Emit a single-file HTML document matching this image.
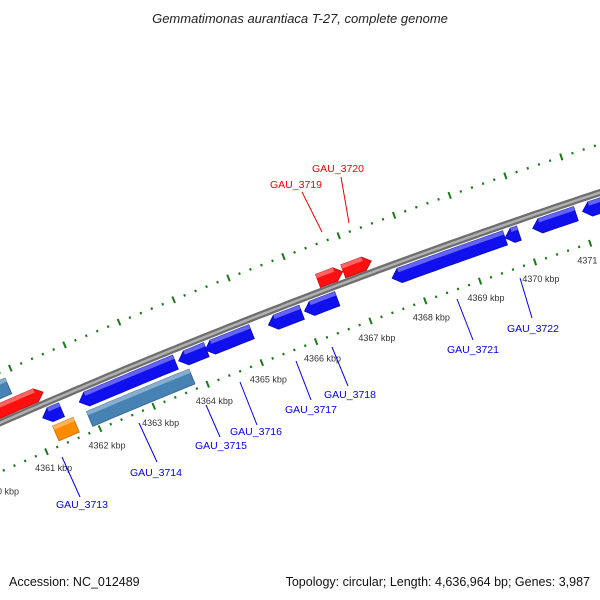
<!DOCTYPE html>
<html><head><meta charset="utf-8"><style>
html,body{margin:0;padding:0;background:#fff}
svg{display:block;font-family:"Liberation Sans","DejaVu Sans",sans-serif}
</style></head><body>
<svg id="map" width="600" height="600" viewBox="0 0 600 600">
<text x="300" y="23" text-anchor="middle" font-size="13" font-style="italic" fill="#222">Gemmatimonas aurantiaca T-27, complete genome</text>
<text x="9" y="586" font-size="12.5" fill="#111">Accession: NC_012489</text>
<text x="590" y="586" text-anchor="end" font-size="12.5" fill="#111">Topology: circular; Length: 4,636,964 bp; Genes: 3,987</text>
<g id="ticks"></g>
<g id="backbone"></g>
<g id="genes"></g>
<g id="labels"></g>
</svg>
<script>
const geneNames = ["g0","g1","g2","GAU_3713","GAU_3714b","GAU_3714","GAU_3715","GAU_3716","GAU_3717","GAU_3718","GAU_3719","GAU_3720","GAU_3721","g13","GAU_3722","g15"];
const geneStart = [4360.0,4360.4,4361.17,4361.27,4361.9,4361.85,4363.69,4364.18,4365.34,4366.0,4366.4,4366.86,4367.6,4369.65,4370.15,4371.05];
const geneEnd   = [4360.85,4361.35,4361.52,4361.65,4363.8,4363.63,4364.2,4365.03,4365.95,4366.6,4366.85,4367.37,4369.65,4369.9,4370.93,4372.0];
const geneRow   = [2,1,-1,-2,-2,-1,-1,-1,-1,-1,1,1,-1,-1,-1,-1];
const geneStrand= [0,1,-1,0,0,-1,-1,-1,-1,-1,1,1,-1,-1,-1,-1];
const geneColor = ["#4682b4","#ff1010","#1010ee","#ff8c00","#4682b4","#1010ee","#1010ee","#1010ee","#1010ee","#1010ee","#ff1010","#ff1010","#1010ee","#1010ee","#1010ee","#1010ee"];
const tickMajor = [4359,4360,4361,4362,4363,4364,4365,4366,4367,4368,4369,4370,4371,4372];
const tickLabels = ["4359 kbp","4360 kbp","4361 kbp","4362 kbp","4363 kbp","4364 kbp","4365 kbp","4366 kbp","4367 kbp","4368 kbp","4369 kbp","4370 kbp","4371 kbp","4372 kbp"];
const labelNames = ["GAU_3713","GAU_3714","GAU_3715","GAU_3716","GAU_3717","GAU_3718","GAU_3719","GAU_3720","GAU_3721","GAU_3722"];

const NS="http://www.w3.org/2000/svg";
const CX=2734, CY=6649, R=6800, A0=-112.95*Math.PI/180, K=0.494*Math.PI/180;
function P(bp,off){const a=A0+(bp-4362)*K, r=R+off;return [CX+r*Math.cos(a),CY+r*Math.sin(a)];}
function mk(tag,attrs,parent){const e=document.createElementNS(NS,tag);for(const k in attrs)e.setAttribute(k,attrs[k]);parent.appendChild(e);return e;}
function arcPts(b0,b1,off){const pts=[];const n=Math.max(2,Math.ceil((b1-b0)*8));for(let i=0;i<=n;i++)pts.push(P(b0+(b1-b0)*i/n,off));return pts;}
const ptsStr=p=>p.map(q=>q[0].toFixed(1)+","+q[1].toFixed(1)).join(" ");

// backbone
const bb=document.getElementById('backbone');
const bbP=ptsStr(arcPts(4358.5,4373.5,0));
let e=mk('polyline',{points:bbP,fill:'none',stroke:'#6e6e6e','stroke-width':7},bb);


e=mk('polyline',{points:bbP,fill:'none',stroke:'#b0b0b0','stroke-width':2.5},bb);



// ticks
const tg=document.getElementById('ticks');
[46,-45].forEach(off=>{
  for(let i=0;i<=14*5;i++){
    const bp=4359+i*0.2; const major=(i%5===0);
    const h=major?3.5:1.2;
    const a=P(bp,off-h), b=P(bp,off+h);
    e=mk('line',{x1:a[0],y1:a[1],x2:b[0],y2:b[1],stroke:'#1a7a1a','stroke-width':2},tg);
    
    
  }
});
tickMajor.forEach((bp,i)=>{
  const p=P(bp,-63);
  e=mk('text',{x:p[0],y:p[1]+3,'text-anchor':'middle','font-size':9,fill:'#333'},tg);
  e.textContent=tickLabels[i];
  
  
});

// genes
const gg=document.getElementById('genes');
const rows={1:[4,18],2:[22,39],"-1":[-20,-5],"-2":[-40,-24]};
const tipBp=8/58.6;
function shade(c,f){const n=parseInt(c.slice(1),16);let r=n>>16,g=(n>>8)&255,b=n&255;
  const m=v=>Math.max(0,Math.min(255,Math.round(f>1?v+(255-v)*(f-1):v*f)));return `rgb(${m(r)},${m(g)},${m(b)})`;}
geneStart.forEach((s,i)=>{
  const en=geneEnd[i], [r0,r1]=rows[geneRow[i]], rm=(r0+r1)/2, st=geneStrand[i];
  let poly;
  if(st===1){const bt=Math.max(s,en-tipBp);
    poly=[...arcPts(s,bt,r1),P(en,rm),...arcPts(s,bt,r0).reverse()];}
  else if(st===-1){const bt=Math.min(en,s+tipBp);
    poly=[P(s,rm),...arcPts(bt,en,r1),...arcPts(bt,en,r0).reverse()];}
  else poly=[...arcPts(s,en,r1),...arcPts(s,en,r0).reverse()];
  e=mk('polygon',{points:ptsStr(poly),fill:geneColor[i],stroke:shade(geneColor[i],0.75),'stroke-width':0.8},gg);
  
  
  // highlight strip on top
  let hs=st===-1?Math.min(en,s+tipBp):s, he=st===1?Math.max(s,en-tipBp):en;
  const hp=[...arcPts(hs,he,r1),...arcPts(hs,he,r1-4).reverse()];
  e=mk('polygon',{points:ptsStr(hp),fill:shade(geneColor[i],1.35)},gg);
  
  
});

// labels (name, line from, line to, text x, text y, color)
const lg=document.getElementById('labels');
const lab=[[62,457,80,497,82,508,'#0000ee'],[139,423,157,462,156,476,'#0000ee'],[206,405,220,437,221,449,'#0000ee'],
[240,382,257,425,256,435,'#0000ee'],[296,361,311,400,311,413,'#0000ee'],[332,347,348,386,350,398,'#0000ee'],
[322,232,302,192,296,188,'#ee0000'],[349,223,341,177,338,172,'#ee0000'],[457,299,473,340,473,353,'#0000ee'],[520,278,532,318,533,332,'#0000ee']];
lab.forEach((L,i)=>{
  e=mk('line',{x1:L[0],y1:L[1],x2:L[2],y2:L[3],stroke:L[6],'stroke-width':1},lg);
  
  
  e=mk('text',{x:L[4],y:L[5],'text-anchor':'middle','font-size':10.5,fill:L[6]},lg);
  e.textContent=labelNames[i];
  
  
});
</script>
</body></html>
